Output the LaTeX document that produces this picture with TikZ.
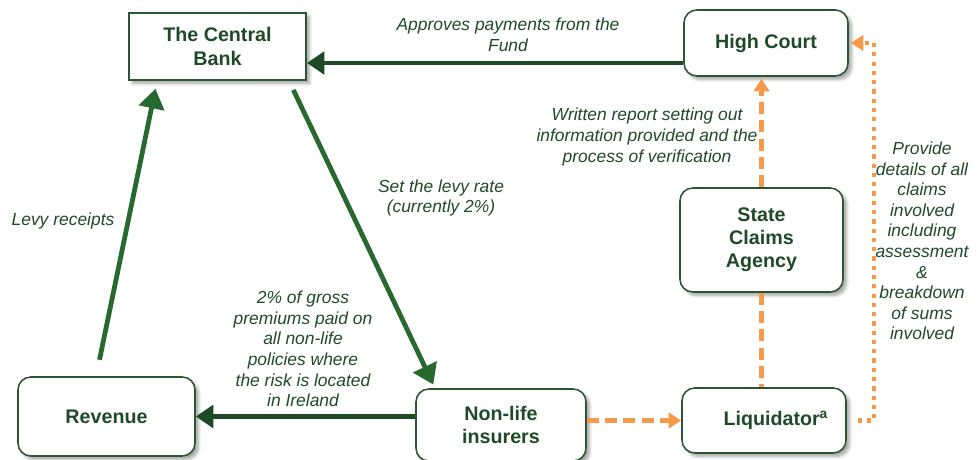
\documentclass[tikz,border=0pt]{standalone}
\usepackage{fontspec}
\setmainfont{Liberation Sans}
\definecolor{FundText}{HTML}{1F4A28}
\definecolor{FundLine}{HTML}{2B5632}
\definecolor{FundDark}{HTML}{1D4A24}
\definecolor{FundGreen}{HTML}{27692F}
\definecolor{FundOrange}{HTML}{F7994A}
\definecolor{FundWhite}{HTML}{FFFFFF}
\usepackage{tikz}
\usetikzlibrary{arrows.meta,positioning,calc,shadows.blur}
\tikzset{
    % Base box style
    basebox/.style={
        draw=FundLine,
        fill=FundWhite,
        line width=1.1pt,
        align=center,
        text=FundText,
        font=\fontsize{14}{16.4}\selectfont\bfseries,
        blur shadow={shadow xshift=0.09cm, shadow yshift=-0.09cm,
            shadow blur steps=6, shadow opacity=35}
    },
    % Square box (Central Bank)
    bankbox/.style={
        basebox,
        line width=1.3pt
    },
    % Rounded box
    roundbox/.style={
        basebox,
        rounded corners=0.32cm
    },
    % Italic flow label
    flowlabel/.style={
        align=center,
        text=FundText,
        font=\fontsize{12.4}{14.6}\selectfont\itshape
    },
    % Heavy horizontal arrow
    darkarrow/.style={
        -{Triangle[length=12.5pt,width=16pt]},
        line width=3.2pt,
        draw=FundDark
    },
    % Diagonal arrow
    greenarrow/.style={
        -{Triangle[length=14pt,width=18pt]},
        line width=3.4pt,
        draw=FundGreen
    },
    % Dashed orange line
    dashline/.style={
        line width=3.4pt,
        draw=FundOrange,
        dash pattern=on 8.5pt off 4.5pt
    },
    % Dashed orange arrow
    dasharrow/.style={
        dashline,
        -{Triangle[length=9pt,width=11pt]}
    },
    % Dotted orange arrow
    dotarrow/.style={
        -{Triangle[length=9pt,width=11pt]},
        line width=3pt,
        draw=FundOrange,
        dash pattern=on 3pt off 3.6pt
    }
}

\begin{document}
\begin{tikzpicture}
    \useasboundingbox (0,0) rectangle (24.475,11.5);

    % boxes
    \node[bankbox, minimum width=4.425cm, minimum height=1.675cm] (bank) at (5.4375,10.3375) {The Central\\Bank};
    \node[roundbox, minimum width=4.1cm, minimum height=1.65cm] (court) at (19.15,10.425) {High Court};
    \node[roundbox, minimum width=4.075cm, minimum height=2.6cm] (agency) at (19.0375,5.5) {State\\Claims\\Agency};
    \node[roundbox, minimum width=4.425cm, minimum height=1.975cm] (revenue) at (2.6625,1.0875) {Revenue};
    \node[roundbox, minimum width=4.25cm, minimum height=1.8cm] (insurers) at (12.525,0.875) {Non-life\\insurers};
    \node[roundbox, minimum width=4.1cm, minimum height=1.625cm] (liquidator) at (19.1,0.9875) {\hspace*{1.2em}Liquidator\textsuperscript{a}};

    \coordinate (fundrow) at (0,9.925);
    \coordinate (dotcol) at (21.85,0);

    % green flows
    \draw[darkarrow] (court.west |- fundrow) -- (bank.east |- fundrow);
    \draw[greenarrow, shorten <=0.42cm, shorten >=0.2cm] ([xshift=-0.26cm]revenue.north) -- ([xshift=-1.51cm]bank.south);
    \draw[greenarrow, shorten <=0.25cm, shorten >=0.1cm] ([xshift=1.79cm]bank.south) -- ([xshift=-1.65cm]insurers.north);
    \draw[darkarrow] (insurers.west |- revenue.east) -- (revenue.east);

    % orange flows
    \draw[dasharrow] (insurers.east |- liquidator.west) -- (liquidator.west);
    \draw[dashline] (agency.south) -- (agency.south |- liquidator.north);
    \draw[dasharrow, shorten >=0.05cm] (agency.north) -- (agency.north |- court.south);
    \draw[dotarrow] ([xshift=0.27cm]liquidator.east) -| (dotcol |- court.east) -- ([xshift=0.05cm]court.east);

    % labels
    \node[flowlabel] (fundlbl) at (12.7,10.625) {Approves payments from the\\Fund};
    \node[flowlabel] (ratelbl) at (11.025,6.55) {Set the levy rate\\(currently 2\%)};
    \node[flowlabel] (levylbl) at (1.575,5.975) {Levy receipts};
    \node[flowlabel] (premlbl) at (7.575,2.775) {2\% of gross\\premiums paid on\\all non-life\\policies where\\the risk is located\\in Ireland};
    \node[flowlabel] (reportlbl) at (16.175,8.075) {Written report setting out\\information provided and the\\process of verification};
    \node[flowlabel] (detaillbl) at (23.05,5.475) {Provide\\details of all\\claims\\involved\\including\\assessment\\\&\\breakdown\\of sums\\involved};
\end{tikzpicture}
\end{document}
